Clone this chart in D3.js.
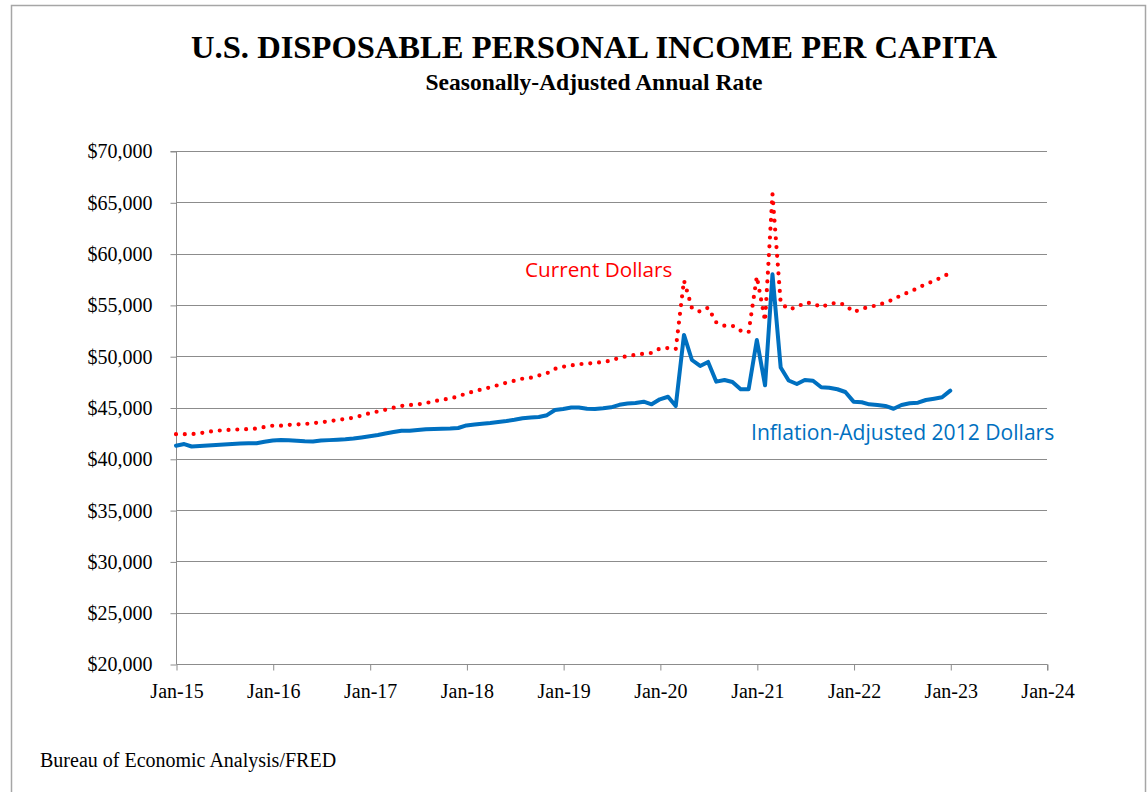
<!DOCTYPE html>
<html>
<head>
<meta charset="utf-8">
<script src="https://cdn.jsdelivr.net/npm/d3@7"></script>
<style>
  html, body { margin: 0; padding: 0; background: #ffffff; }
  svg { display: block; }
</style>
</head>
<body>
<svg id="chart" width="1147" height="792"></svg>
<script>
// ---- Data (monthly, Jan 2015 .. Jan 2023) ----
const startMonth = "2015-01";
const currentDollars = [
  42400, 42400, 42400, 42490, 42630, 42730, 42790, 42830, 42870, 42900, 42940, 43100,
  43230, 43230, 43310, 43350, 43390, 43470, 43560, 43660, 43780, 43890, 44010, 44210,
  44450, 44610, 44780, 44980, 45150, 45240, 45300, 45430, 45610, 45750, 45880, 46080,
  46380, 46580, 46780, 46970, 47190, 47420, 47610, 47810, 47900, 48120, 48340, 48770,
  48970, 49100, 49220, 49280, 49340, 49440, 49570, 49860, 50000, 50130, 50250, 50320,
  50750, 50800, 50700, 57380, 54700, 54340, 54730, 53300, 52970, 52970, 52490, 52330,
  57770, 53430, 65810, 55190, 54570, 54770, 55220, 55160, 54770, 55090, 55220, 54990,
  54310, 54600, 54830, 54940, 55240, 55530, 55970, 56260, 56650, 57040, 57330, 57720,
  58110
];
const realDollars2012 = [
  41280, 41440, 41200, 41250, 41300, 41350, 41390, 41440, 41490, 41510, 41510, 41660,
  41780, 41830, 41810, 41760, 41710, 41690, 41780, 41820, 41860, 41900, 41970, 42080,
  42200, 42320, 42470, 42610, 42740, 42740, 42810, 42890, 42910, 42930, 42950, 43000,
  43250, 43340, 43410, 43490, 43590, 43680, 43800, 43950, 44030, 44080, 44250, 44760,
  44850, 45000, 45000, 44870, 44850, 44920, 45020, 45260, 45380, 45440, 45570, 45310,
  45800, 46050, 45150, 52070, 49630, 49050, 49440, 47520, 47680, 47490, 46780, 46780,
  51580, 47160, 57980, 48900, 47630, 47290, 47680, 47610, 46970, 46930, 46780, 46510,
  45570, 45510, 45310, 45240, 45150, 44880, 45240, 45410, 45470, 45730, 45860, 46000,
  46640
];
const yTicks = [20000, 25000, 30000, 35000, 40000, 45000, 50000, 55000, 60000, 65000, 70000];
const xTickLabels = ["Jan-15","Jan-16","Jan-17","Jan-18","Jan-19","Jan-20","Jan-21","Jan-22","Jan-23","Jan-24"];
const titleText = "U.S. DISPOSABLE PERSONAL INCOME PER CAPITA";
const subtitleText = "Seasonally-Adjusted Annual Rate";
const sourceText = "Bureau of Economic Analysis/FRED";
const seriesLabels = ["Current Dollars", "Inflation-Adjusted 2012 Dollars"];

// ---- Build ----
const parseMonth = d3.timeParse("%Y-%m");
const start = parseMonth(startMonth);
const dates = currentDollars.map((_, i) => d3.timeMonth.offset(start, i));
const tickDates = xTickLabels.map((_, i) => d3.timeYear.offset(start, i));

const svg = d3.select("#chart");
const gridColor = "#8c8c8c";
const serif = "'Liberation Serif', 'Times New Roman', serif";
const sans = "'Open Sans', 'Liberation Sans', sans-serif";

// outer frame
svg.append("rect").attr("x", 11.5).attr("y", 5.5).attr("width", 1134).attr("height", 800)
  .attr("fill", "#ffffff").attr("stroke", "#a6a6a6").attr("stroke-width", 1.5);

const x = d3.scaleTime().domain([tickDates[0], tickDates[tickDates.length - 1]]).range([176, 1047]);
const y = d3.scaleLinear().domain([20000, 70000]).range([664, 151]);

// title
svg.append("text").attr("x", 594).attr("y", 58).attr("text-anchor", "middle")
  .attr("font-family", serif).attr("font-weight", "bold").attr("font-size", 32.6)
  .text(titleText);
svg.append("text").attr("x", 594).attr("y", 90).attr("text-anchor", "middle")
  .attr("font-family", serif).attr("font-weight", "bold").attr("font-size", 23.5)
  .text(subtitleText);

// gridlines
svg.append("g").selectAll("line").data(yTicks.slice(1)).join("line")
  .attr("x1", 176).attr("x2", 1047)
  .attr("y1", d => Math.round(y(d)) + 0.5).attr("y2", d => Math.round(y(d)) + 0.5)
  .attr("stroke", gridColor).attr("stroke-width", 1);

// y axis
const yAxis = d3.axisLeft(y).tickValues(yTicks).tickSize(6).tickPadding(18)
  .tickFormat(d => "$" + d3.format(",")(d));
const gy = svg.append("g").attr("transform", "translate(176.5,0.5)").call(yAxis);
gy.select(".domain").attr("stroke", gridColor).attr("d", `M-6,${y(70000)}H0V${y(20000)}`);
gy.selectAll(".tick line").attr("stroke", gridColor);
gy.selectAll(".tick text").attr("font-family", serif).attr("font-size", 20).attr("fill", "#000").attr("dy", "0.32em");

// x axis
const xAxis = d3.axisBottom(x).tickValues(tickDates).tickSize(6).tickPadding(13)
  .tickFormat((d, i) => xTickLabels[i]);
const gx = svg.append("g").attr("transform", "translate(0.5," + (Math.round(y(20000)) + 0.5) + ")").call(xAxis);
gx.select(".domain").attr("stroke", gridColor).attr("d", `M${x(tickDates[0])},0H${x(tickDates[tickDates.length-1])}V6`);
gx.selectAll(".tick line").attr("stroke", gridColor);
gx.selectAll(".tick text").attr("font-family", serif).attr("font-size", 20).attr("fill", "#000");

// lines
const line = d3.line().x((d, i) => x(dates[i])).y(d => y(d));
svg.append("path").datum(realDollars2012).attr("d", line)
  .attr("fill", "none").attr("stroke", "#0070C0").attr("stroke-width", 4)
  .attr("stroke-linejoin", "round").attr("stroke-linecap", "round");
svg.append("path").datum(currentDollars).attr("d", line)
  .attr("fill", "none").attr("stroke", "#FF0000").attr("stroke-width", 4.2)
  .attr("stroke-linecap", "round").attr("stroke-dasharray", "0 8.8");

// series labels
svg.append("text").attr("x", 525).attr("y", 277)
  .attr("font-family", sans).attr("font-size", 20.7).attr("fill", "#FF0000")
  .text(seriesLabels[0]);
svg.append("text").attr("x", 751).attr("y", 440)
  .attr("font-family", sans).attr("font-size", 21.1).attr("fill", "#0070C0")
  .text(seriesLabels[1]);

// source
svg.append("text").attr("x", 40).attr("y", 767)
  .attr("font-family", serif).attr("font-size", 20).attr("fill", "#000")
  .text(sourceText);
</script>
</body>
</html>
